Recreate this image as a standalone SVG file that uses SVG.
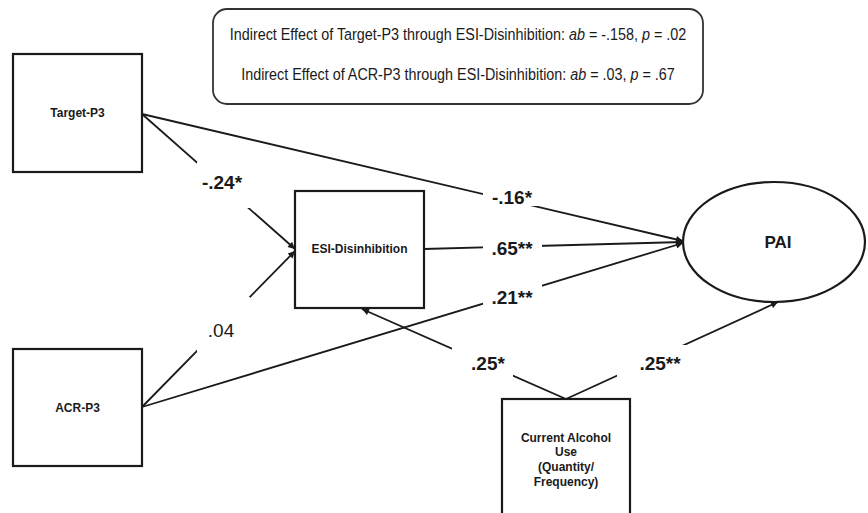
<svg xmlns="http://www.w3.org/2000/svg" width="868" height="513" viewBox="0 0 868 513">
<style>
.box{fill:#fff;stroke:#1a1a1a;stroke-width:2.2}
.ln{stroke:#1a1a1a;stroke-width:1.8;fill:none}
.lbl{font-family:"Liberation Sans",Arial,sans-serif;font-weight:bold;font-size:19px;fill:#1a1a1a;text-anchor:middle}
.lblr{font-family:"Liberation Sans",Arial,sans-serif;font-size:19px;fill:#1a1a1a;text-anchor:middle}
.nt{font-family:"Liberation Sans",Arial,sans-serif;font-weight:bold;font-size:12px;fill:#1a1a1a;text-anchor:middle}
.big{font-size:17px}
.info{font-family:"Liberation Sans",Arial,sans-serif;font-size:17px;fill:#1a1a1a;text-anchor:middle}
.bg{fill:#fff;stroke:none}
</style>
<defs>
<marker id="ah" viewBox="0 0 10 10" refX="10" refY="5" markerWidth="9" markerHeight="7" markerUnits="userSpaceOnUse" orient="auto">
<path d="M0,0 L10,5 L0,10 z" fill="#1a1a1a"/>
</marker>
</defs>
<rect width="868" height="513" fill="#fff"/>
<g id="info">
<rect x="213" y="9" width="490" height="95" rx="14" ry="14" fill="#fff" stroke="#333" stroke-width="1.8"/>
<text class="info" transform="translate(458,40) scale(0.845,1)" x="0" y="0">Indirect Effect of Target-P3 through ESI-Disinhibition: <tspan font-style="italic">ab</tspan> = -.158, <tspan font-style="italic">p</tspan> = .02</text>
<text class="info" transform="translate(458,80) scale(0.845,1)" x="0" y="0">Indirect Effect of ACR-P3 through ESI-Disinhibition: <tspan font-style="italic">ab</tspan> = .03, <tspan font-style="italic">p</tspan> = .67</text>
</g>
<g id="connectors">
<line class="ln" x1="142" y1="114" x2="683" y2="241" marker-end="url(#ah)"/>
<line class="ln" x1="142" y1="114" x2="295" y2="249" marker-end="url(#ah)"/>
<line class="ln" x1="142" y1="407" x2="295" y2="251" marker-end="url(#ah)"/>
<line class="ln" x1="142" y1="407" x2="683" y2="243" marker-end="url(#ah)"/>
<line class="ln" x1="424" y1="249" x2="683" y2="242" marker-end="url(#ah)"/>
<line class="ln" x1="566" y1="399" x2="362" y2="309" marker-end="url(#ah)"/>
<line class="ln" x1="566" y1="399" x2="778" y2="302" marker-end="url(#ah)"/>
<rect class="bg" x="197" y="162" width="53" height="46"/>
<rect class="bg" x="197" y="297" width="53" height="55"/>
<rect class="bg" x="483" y="184" width="59" height="22"/>
<rect class="bg" x="483" y="237" width="59" height="22"/>
<rect class="bg" x="483" y="284" width="59" height="23"/>
<rect class="bg" x="452" y="348" width="61" height="29"/>
<rect class="bg" x="617" y="345" width="70" height="33"/>
<text class="lbl" x="222" y="189">-.24*</text>
<text class="lblr" x="221" y="337">.04</text>
<text class="lbl" x="512" y="204">-.16*</text>
<text class="lbl" x="512" y="255">.65**</text>
<text class="lbl" x="512" y="304">.21**</text>
<text class="lbl" x="488" y="370">.25*</text>
<text class="lbl" x="660" y="370">.25**</text>
</g>
<g id="target">
<rect class="box" x="13" y="54" width="129" height="118"/>
<text class="nt" x="77.5" y="117">Target-P3</text>
</g>
<g id="acr">
<rect class="box" x="13" y="349" width="129" height="117"/>
<text class="nt" x="77.5" y="412">ACR-P3</text>
</g>
<g id="esi">
<rect class="box" x="295" y="191" width="129" height="117"/>
<text class="nt" x="359.5" y="253">ESI-Disinhibition</text>
</g>
<g id="pai">
<ellipse cx="774" cy="242" rx="91" ry="60" fill="#fff" stroke="#1a1a1a" stroke-width="2.2"/>
<text class="nt big" x="778" y="248">PAI</text>
</g>
<g id="alcohol">
<rect class="box" x="502" y="399" width="128" height="130"/>
<text class="nt" x="566" y="442">Current Alcohol</text>
<text class="nt" x="566" y="456">Use</text>
<text class="nt" x="566" y="471">(Quantity/</text>
<text class="nt" x="566" y="486">Frequency)</text>
</g>
</svg>
